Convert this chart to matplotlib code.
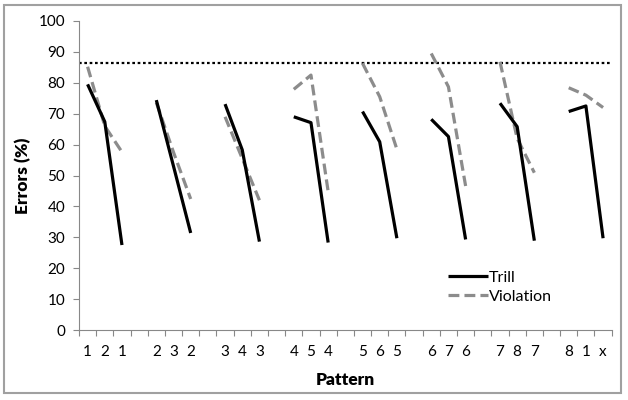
import numpy as np
import matplotlib
matplotlib.use("Agg")
import matplotlib.pyplot as plt
from matplotlib.patches import Rectangle

plt.rcParams['font.family'] = ['Lato', 'DejaVu Sans']

# categories (empty strings are the gaps between patterns)
labels = ['1', '2', '1', '',
          '2', '3', '2', '',
          '3', '4', '3', '',
          '4', '5', '4', '',
          '5', '6', '5', '',
          '6', '7', '6', '',
          '7', '8', '7', '',
          '8', '1', 'x']

nan = np.nan
trill = [79.5, 67.4, 27.5, nan,
         74.4, 53.0, 31.4, nan,
         73.1, 58.3, 28.6, nan,
         69.0, 67.1, 28.3, nan,
         70.7, 60.9, 29.7, nan,
         68.2, 62.6, 29.3, nan,
         73.4, 65.8, 28.9, nan,
         70.7, 72.5, 29.7]
violation = [85.2, 66.0, 57.6, nan,
             73.6, 57.5, 42.4, nan,
             69.0, 55.5, 42.0, nan,
             77.9, 82.5, 44.8, nan,
             86.3, 75.5, 58.5, nan,
             89.5, 78.7, 46.6, nan,
             86.8, 62.0, 50.9, nan,
             78.4, 76.0, 72.0]
chance = 86.5

x = np.arange(len(labels))

fig = plt.figure(figsize=(6.28, 4.0), dpi=100)
ax = fig.add_axes([0.1258, 0.175, 0.8482, 0.7725])

ax.axhline(chance, color='black', lw=1.6, ls=(0, (1.2, 1.2)), zorder=1)
ax.plot(x, trill, color='black', lw=2.3, label='Trill', zorder=3,
        solid_capstyle='butt')
ax.plot(x, violation, color='#8c8c8c', lw=2.3, ls=(0, (3.4, 1.6)),
        label='Violation', zorder=2, dash_capstyle='butt')

ax.set_xlim(-0.5, len(labels) - 0.5)
ax.set_ylim(0, 100)
ax.set_yticks(np.arange(0, 101, 10))
ax.set_xticks(x)
ax.set_xticklabels(labels)
ax.set_xticks(np.arange(-0.5, len(labels), 1), minor=True)
ax.tick_params(axis='x', which='major', length=0, pad=11, labelsize=11)
ax.tick_params(axis='x', which='minor', length=4, color='#888888', width=0.8)
ax.tick_params(axis='y', length=4, color='#888888', width=0.8, labelsize=11, pad=6)

for s in ['top', 'right']:
    ax.spines[s].set_visible(False)
for s in ['left', 'bottom']:
    ax.spines[s].set_color('#888888')
    ax.spines[s].set_linewidth(0.8)

ax.set_ylabel('Errors (%)', fontsize=12.5, fontweight='heavy', labelpad=5)
ax.set_xlabel('Pattern', fontsize=12.5, fontweight='heavy', labelpad=9)

ax.legend(loc='lower left', bbox_to_anchor=(0.68, 0.065), frameon=False,
          fontsize=11.5, handlelength=2.5, handletextpad=0.1,
          labelspacing=0.3, borderaxespad=0)

# chart area border
fig.patches.append(Rectangle((0.007, 0.018), 0.982, 0.97, transform=fig.transFigure,
                             fill=False, edgecolor='#a0a0a0', lw=1.5))

fig.savefig('out.png', dpi=100)
